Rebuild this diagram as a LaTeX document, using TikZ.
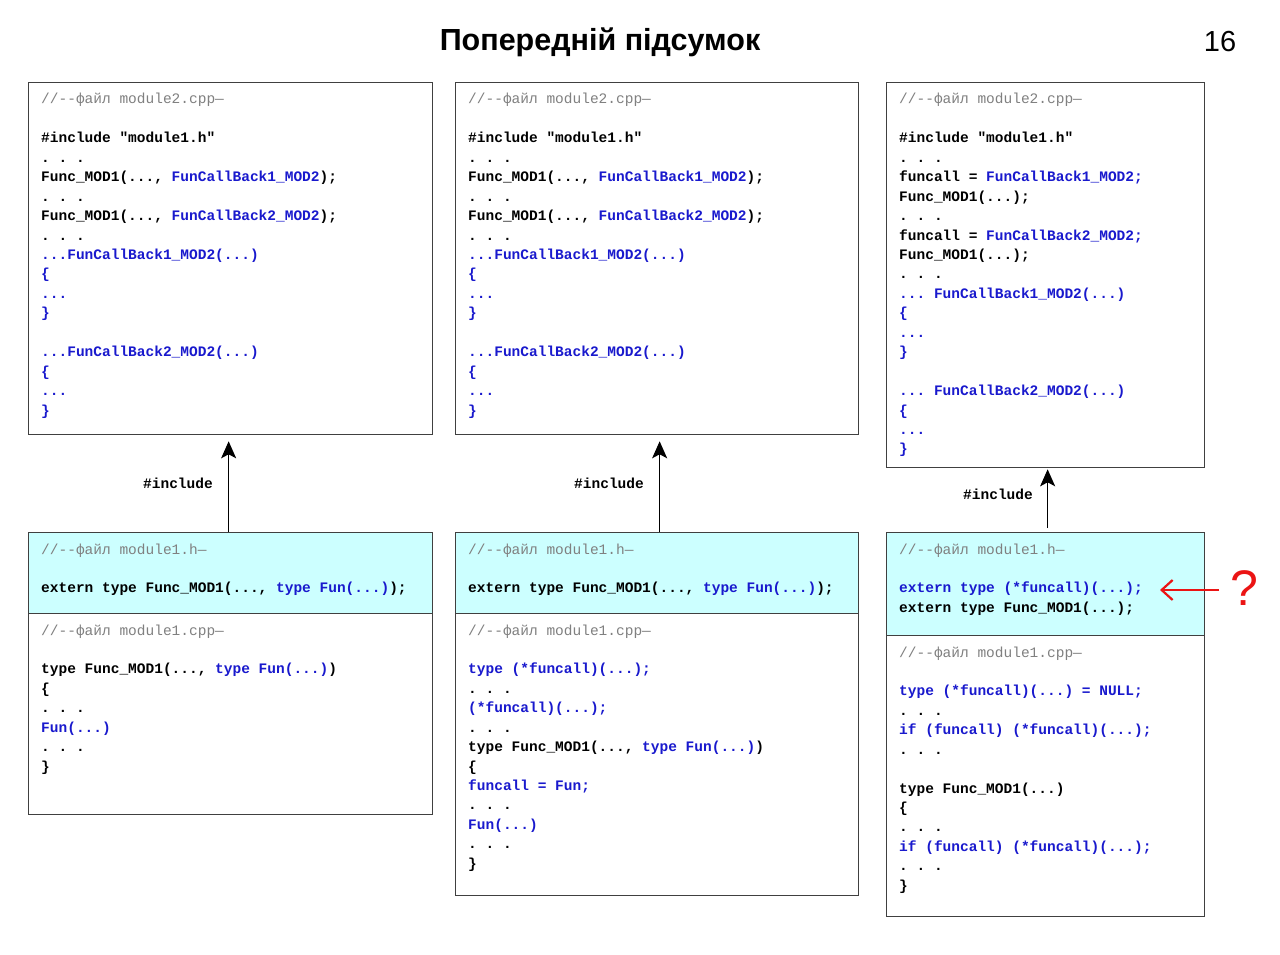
\documentclass[tikz,border=0pt]{standalone}
\usepackage{fontspec}
\setmainfont{Liberation Sans}
\setmonofont{Liberation Mono}
\usetikzlibrary{arrows.meta}

\definecolor{codeblue}{RGB}{25,25,205}
\definecolor{cmgray}{RGB}{128,128,128}
\definecolor{hdrcyan}{RGB}{204,255,255}
\definecolor{framegray}{RGB}{64,64,64}
\definecolor{qred}{RGB}{235,20,20}

% comment text and highlighted code
\newcommand\cmt[1]{{\color{cmgray}\mdseries #1}}
\newcommand\cb[1]{{\color{codeblue}#1}}
% one listing: name prefix, left x, first baseline, list of  lineno/{text}
\newcommand\codeblock[4]{%
  \foreach \lineno/\codetext in {#4}
    {\node[code] (#1-\lineno) at (#2,#3+19.44*\lineno) {\codetext};}}

\tikzset{
  code/.style={anchor=base west, inner sep=0pt,
    font=\ttfamily\bfseries\fontsize{14.5}{17}\selectfont},
  srcbox/.style={draw=framegray, line width=1.3pt, fill=white,
    anchor=north west, inner sep=0pt},
  hdrbox/.style={srcbox, fill=hdrcyan},
  incl/.style={-{Stealth[length=17pt,width=15pt,inset=4pt]}, line width=1.4pt, black},
  incllabel/.style={anchor=base, inner sep=0pt,
    font=\ttfamily\bfseries\fontsize{14.5}{17}\selectfont},
  qarrow/.style={-{Straight Barb[length=11pt,width=20pt,line width=2.2pt]},
    line width=2.2pt, qred},
}

\begin{document}
\begin{tikzpicture}[x=1pt,y=-1pt]
\fill[white] (0,0) rectangle (1280,955);
\path[use as bounding box] (0,0) rectangle (1280,955);

% heading
\node[font=\bfseries\fontsize{30.5}{36}\selectfont] (title) at (600,42) {Попередній підсумок};
\node[font=\fontsize{29}{34}\selectfont] (pageno) at (1220,42) {16};

% frames
\node[srcbox, minimum width=404pt, minimum height=352pt] (A1) at (28,82) {};
\node[srcbox, minimum width=403pt, minimum height=352pt] (A2) at (455,82) {};
\node[srcbox, minimum width=318pt, minimum height=385pt] (A3) at (886,82) {};

\node[hdrbox, minimum width=404pt, minimum height=81pt] (B1) at (28,532) {};
\node[srcbox, minimum width=404pt, minimum height=201pt] (C1) at (28,613) {};
\node[hdrbox, minimum width=403pt, minimum height=81pt] (B2) at (455,532) {};
\node[srcbox, minimum width=403pt, minimum height=282pt] (C2) at (455,613) {};
\node[hdrbox, minimum width=318pt, minimum height=103pt] (B3) at (886,532) {};
\node[srcbox, minimum width=318pt, minimum height=281pt] (C3) at (886,635) {};

% module2.cpp, variants 1 and 2
\codeblock{a1}{41}{104}{0/{\cmt{//--файл module2.cpp—}},
  2/{\#include "module1.h"}, 3/{. . .},
  4/{Func\_MOD1(..., \cb{FunCallBack1\_MOD2});}, 5/{. . .},
  6/{Func\_MOD1(..., \cb{FunCallBack2\_MOD2});}, 7/{. . .},
  8/{\cb{...FunCallBack1\_MOD2(...)}}, 9/{\cb{\{}}, 10/{\cb{...}}, 11/{\cb{\}}},
  13/{\cb{...FunCallBack2\_MOD2(...)}}, 14/{\cb{\{}}, 15/{\cb{...}}, 16/{\cb{\}}}}
\codeblock{a2}{468}{104}{0/{\cmt{//--файл module2.cpp—}},
  2/{\#include "module1.h"}, 3/{. . .},
  4/{Func\_MOD1(..., \cb{FunCallBack1\_MOD2});}, 5/{. . .},
  6/{Func\_MOD1(..., \cb{FunCallBack2\_MOD2});}, 7/{. . .},
  8/{\cb{...FunCallBack1\_MOD2(...)}}, 9/{\cb{\{}}, 10/{\cb{...}}, 11/{\cb{\}}},
  13/{\cb{...FunCallBack2\_MOD2(...)}}, 14/{\cb{\{}}, 15/{\cb{...}}, 16/{\cb{\}}}}
% module2.cpp, variant 3
\codeblock{a3}{899}{104}{0/{\cmt{//--файл module2.cpp—}},
  2/{\#include "module1.h"}, 3/{. . .},
  4/{funcall = \cb{FunCallBack1\_MOD2;}}, 5/{Func\_MOD1(...);}, 6/{. . .},
  7/{funcall = \cb{FunCallBack2\_MOD2;}}, 8/{Func\_MOD1(...);}, 9/{. . .},
  10/{\cb{... FunCallBack1\_MOD2(...)}}, 11/{\cb{\{}}, 12/{\cb{...}}, 13/{\cb{\}}},
  15/{\cb{... FunCallBack2\_MOD2(...)}}, 16/{\cb{\{}}, 17/{\cb{...}}, 18/{\cb{\}}}}

% module1.h
\codeblock{b1}{41}{554}{0/{\cmt{//--файл module1.h—}},
  2/{extern type Func\_MOD1(..., \cb{type Fun(...)});}}
\codeblock{b2}{468}{554}{0/{\cmt{//--файл module1.h—}},
  2/{extern type Func\_MOD1(..., \cb{type Fun(...)});}}
\codeblock{b3}{899}{554}{0/{\cmt{//--файл module1.h—}},
  2/{\cb{extern type (*funcall)(...);}}, 3/{extern type Func\_MOD1(...);}}

% module1.cpp
\codeblock{c1}{41}{635}{0/{\cmt{//--файл module1.cpp—}},
  2/{type Func\_MOD1(..., \cb{type Fun(...)})}, 3/{\{}, 4/{. . .},
  5/{\cb{Fun(...)}}, 6/{. . .}, 7/{\}}}
\codeblock{c2}{468}{635}{0/{\cmt{//--файл module1.cpp—}},
  2/{\cb{type (*funcall)(...);}}, 3/{. . .}, 4/{\cb{(*funcall)(...);}}, 5/{. . .},
  6/{type Func\_MOD1(..., \cb{type Fun(...)})}, 7/{\{}, 8/{\cb{funcall = Fun;}},
  9/{. . .}, 10/{\cb{Fun(...)}}, 11/{. . .}, 12/{\}}}
\codeblock{c3}{899}{657}{0/{\cmt{//--файл module1.cpp—}},
  2/{\cb{type (*funcall)(...) = NULL;}}, 3/{. . .},
  4/{\cb{if (funcall) (*funcall)(...);}}, 5/{. . .},
  7/{type Func\_MOD1(...)}, 8/{\{}, 9/{. . .},
  10/{\cb{if (funcall) (*funcall)(...);}}, 11/{. . .}, 12/{\}}}

% #include relations
\draw[incl, shorten >=6pt] ([xshift=-2pt]B1.north) -- ([xshift=-2pt]A1.south);
\draw[incl, shorten >=6pt] ([xshift=2.5pt]B2.north) -- ([xshift=2.5pt]A2.south);
\draw[incl, shorten <=4pt, shorten >=1pt] ([xshift=2pt]B3.north) -- ([xshift=2pt]A3.south);
\node[incllabel] (inc1) at (178,488) {\#include};
\node[incllabel] (inc2) at (609,488) {\#include};
\node[incllabel] (inc3) at (998,499) {\#include};

% open question on the pointer declaration
\node[font=\fontsize{50}{56}\selectfont, text=qred, inner sep=0pt] (qmark) at (1244,588) {?};
\coordinate (qtip) at (1160,590);
\draw[qarrow] (1219,590) -- (qtip);
\end{tikzpicture}
\end{document}
